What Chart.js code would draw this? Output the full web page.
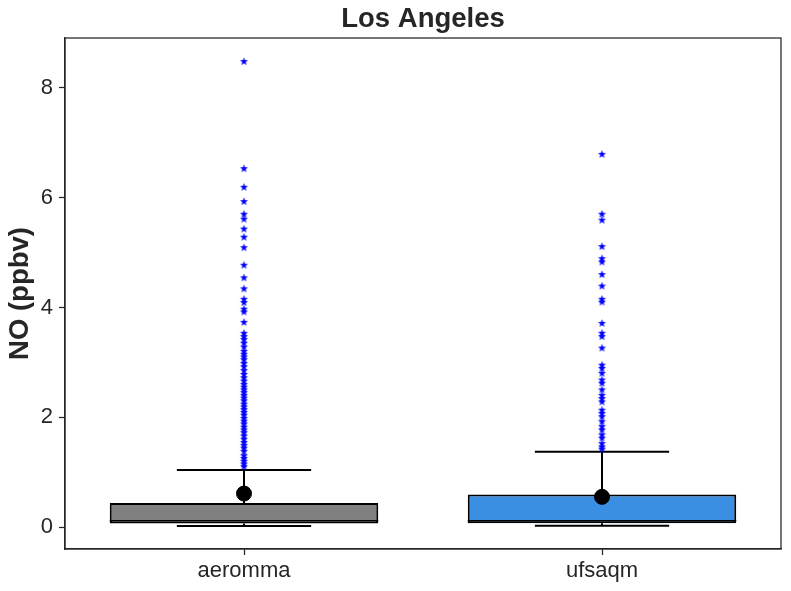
<!DOCTYPE html>
<html>
<head>
<meta charset="utf-8">
<script src="https://cdn.jsdelivr.net/npm/chart.js@4"></script>
<style>
  html, body { margin: 0; padding: 0; background: #fff; }
  #wrap { width: 791px; height: 591px; }
</style>
</head>
<body>
<div id="wrap"><canvas id="chart" width="791" height="591"></canvas></div>
<script>
// box plot data
const categories = ['aeromma', 'ufsaqm'];
const boxColors = ['#808080', '#3a8fe3'];
const q1 = [0.065, 0.067];
const q3 = [0.44, 0.595];
const medians = [0.115, 0.115];
const whiskerLow = [0.02, 0.024];
const whiskerHigh = [1.04, 1.37];
const means = [0.61, 0.55];
const yTicks = [0, 2, 4, 6, 8];

const aerommaOutliers = [8.48, 6.53, 6.19, 5.93, 5.70, 5.61, 5.43, 5.28, 5.09, 4.77, 4.54,
  4.34, 4.15, 4.09, 3.97, 3.92, 3.73, 3.53, 3.47, 3.42, 3.35, 3.28, 3.20, 3.15, 3.10, 3.05,
  2.98, 2.92, 2.85, 2.78, 2.72, 2.66, 2.60, 2.55, 2.50, 2.45, 2.40, 2.35, 2.30, 2.24, 2.19,
  2.14, 2.09, 2.04, 1.98, 1.93, 1.88, 1.82, 1.77, 1.72, 1.66, 1.60, 1.54, 1.49, 1.44, 1.38,
  1.30, 1.25, 1.20, 1.15, 1.10];
const ufsaqmOutliers = [6.79, 5.70, 5.59, 5.11, 4.89, 4.83, 4.60, 4.39, 4.15, 4.10,
  3.71, 3.53, 3.47, 3.26, 2.95, 2.89, 2.80, 2.68, 2.62, 2.50, 2.40, 2.34, 2.28, 2.13,
  2.07, 2.01, 1.92, 1.83, 1.77, 1.68, 1.62, 1.52, 1.46, 1.42];

const textColor = '#262626';
const fontFamily = 'Liberation Sans, Arial, sans-serif';

// filled star marker like matplotlib '*'
function makeStar(r, color) {
  const c = document.createElement('canvas');
  const s = Math.ceil(r * 2 + 2);
  c.width = s; c.height = s;
  const g = c.getContext('2d');
  g.fillStyle = color;
  g.beginPath();
  for (let i = 0; i < 10; i++) {
    const rad = i % 2 === 0 ? r : r * 0.42;
    const a = -Math.PI / 2 + i * Math.PI / 5;
    const px = s / 2 + rad * Math.cos(a);
    const py = s / 2 + rad * Math.sin(a);
    if (i === 0) g.moveTo(px, py); else g.lineTo(px, py);
  }
  g.closePath();
  g.fill();
  return c;
}
const star = makeStar(4.2, '#0000ff');

// whiskers, caps and medians drawn right after the boxes
const boxExtras = {
  id: 'boxExtras',
  afterDatasetDraw(chart, args) {
    if (args.index !== 0) return;
    const ctx = chart.ctx;
    const x = chart.scales.x, y = chart.scales.y;
    const meta = chart.getDatasetMeta(0);
    ctx.save();
    ctx.strokeStyle = '#000';
    categories.forEach((c, i) => {
      const bar = meta.data[i];
      const cx = x.getPixelForValue(i);
      const half = bar.width / 2;
      ctx.lineWidth = 2;
      ctx.beginPath();
      // upper whisker
      ctx.moveTo(cx, y.getPixelForValue(q3[i]));
      ctx.lineTo(cx, y.getPixelForValue(whiskerHigh[i]));
      // lower whisker
      ctx.moveTo(cx, y.getPixelForValue(q1[i]));
      ctx.lineTo(cx, y.getPixelForValue(whiskerLow[i]));
      // caps
      ctx.moveTo(cx - half / 2, y.getPixelForValue(whiskerHigh[i]));
      ctx.lineTo(cx + half / 2, y.getPixelForValue(whiskerHigh[i]));
      ctx.moveTo(cx - half / 2, y.getPixelForValue(whiskerLow[i]));
      ctx.lineTo(cx + half / 2, y.getPixelForValue(whiskerLow[i]));
      ctx.stroke();
      // median
      ctx.lineWidth = 1.5;
      ctx.beginPath();
      ctx.moveTo(cx - half, y.getPixelForValue(medians[i]));
      ctx.lineTo(cx + half, y.getPixelForValue(medians[i]));
      ctx.stroke();
    });
    ctx.restore();
  },
  afterDraw(chart) {
    // full frame round the plot area
    const a = chart.chartArea, ctx = chart.ctx;
    ctx.save();
    ctx.strokeStyle = textColor;
    ctx.lineWidth = 1.25;
    ctx.strokeRect(a.left, a.top, a.right - a.left, a.bottom - a.top);
    ctx.restore();
  }
};

new Chart(document.getElementById('chart'), {
  type: 'bar',
  data: {
    labels: categories,
    datasets: [
      {
        type: 'bar',
        data: categories.map((c, i) => [q1[i], q3[i]]),
        backgroundColor: boxColors,
        borderColor: '#000',
        borderWidth: 2,
        borderSkipped: false,
        barPercentage: 0.75,
        categoryPercentage: 1,
        order: 3
      },
      {
        type: 'scatter',
        data: means.map((m, i) => ({ x: categories[i], y: m })),
        pointStyle: 'circle',
        pointRadius: 7.5,
        backgroundColor: '#000',
        borderColor: '#000',
        order: 2
      },
      {
        type: 'scatter',
        data: aerommaOutliers.map(v => ({ x: 'aeromma', y: v })),
        pointStyle: star,
        order: 1
      },
      {
        type: 'scatter',
        data: ufsaqmOutliers.map(v => ({ x: 'ufsaqm', y: v })),
        pointStyle: star,
        order: 1
      }
    ]
  },
  options: {
    responsive: false,
    animation: false,
    layout: { padding: { left: 0, right: 10, top: 0, bottom: 0 } },
    plugins: {
      legend: { display: false },
      tooltip: { enabled: false },
      title: {
        display: true,
        text: 'Los Angeles',
        fullSize: false,
        color: textColor,
        font: { family: fontFamily, size: 27.5, weight: 'bold' },
        padding: { top: 3, bottom: 2 }
      }
    },
    scales: {
      x: {
        type: 'category',
        offset: true,
        grid: { display: true, drawOnChartArea: false, offset: false, drawTicks: true, tickLength: 6, color: textColor, tickWidth: 1.25 },
        border: { display: true, color: textColor, width: 1.25 },
        ticks: {
          color: textColor,
          padding: 3,
          font: { family: fontFamily, size: 22 }
        },
        afterFit(scale) { scale.height = 42; }
      },
      y: {
        type: 'linear',
        min: -0.40,
        max: 8.91,
        afterBuildTicks(scale) { scale.ticks = yTicks.map(v => ({ value: v })); },
        grid: { display: true, drawOnChartArea: false, drawTicks: true, tickLength: 6, color: textColor, tickWidth: 1.25 },
        border: { display: true, color: textColor, width: 1.25 },
        ticks: {
          color: textColor,
          padding: 6,
          font: { family: fontFamily, size: 22 }
        },
        title: {
          display: true,
          text: 'NO (ppbv)',
          color: textColor,
          font: { family: fontFamily, size: 27.5, weight: 'bold' },
          padding: { top: 4, bottom: 0 }
        },
        afterFit(scale) { scale.width = 65; }
      }
    }
  },
  plugins: [boxExtras]
});
</script>
</body>
</html>
